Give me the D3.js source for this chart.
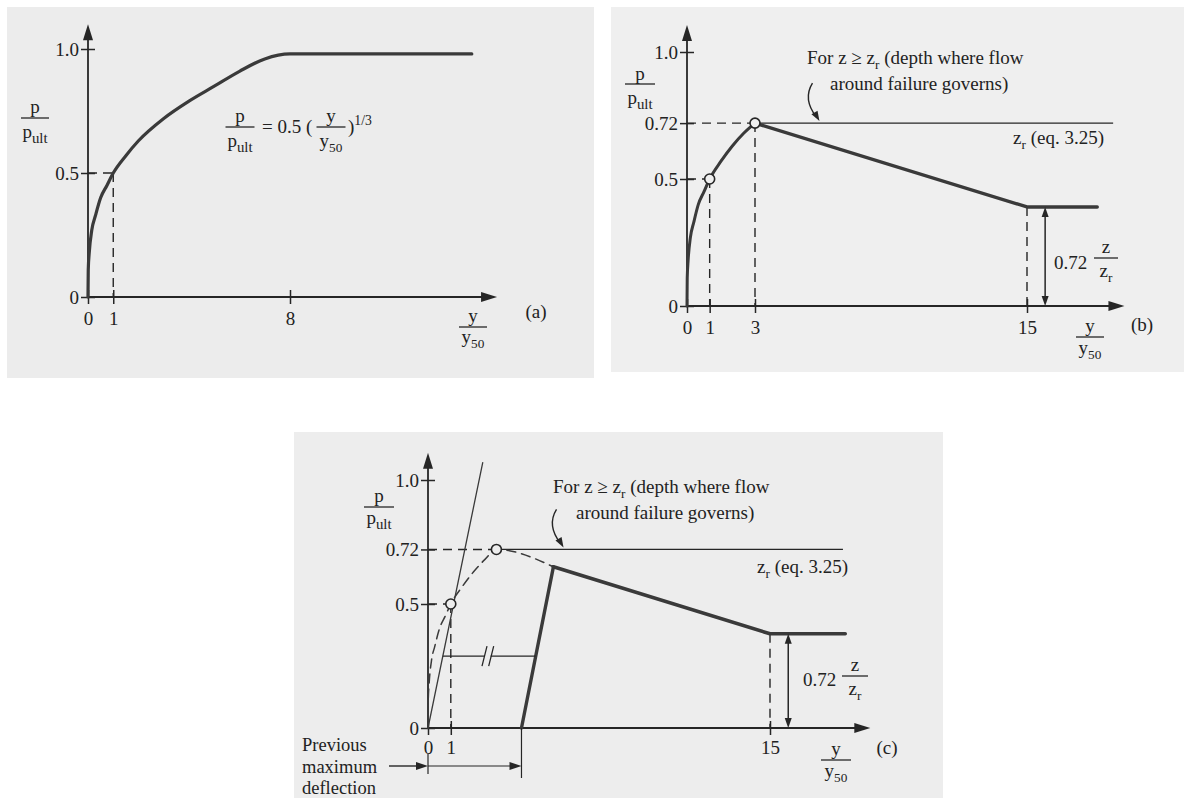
<!DOCTYPE html>
<html><head><meta charset="utf-8">
<script src="https://cdn.jsdelivr.net/npm/d3@7"></script>
<style>
body{margin:0;background:#fff;}
svg{display:block;}
text{font-family:"Liberation Serif","Times New Roman",serif;fill:#222;}
</style>
</head><body>
<svg id="chart" width="1184" height="804"></svg>
<script>
// ---------------- data ----------------
// Panel (a): p/pult = 0.5 (y/y50)^(1/3), capped at 1.0 from y/y50 = 8
const aTickX = [0, 1, 8];
const aTickY = [0, 0.5, 1.0];
const aTickYLabels = ["0", "0.5", "1.0"];
const aCurveX = [0, 0.01, 0.05, 0.15, 0.3, 0.5, 0.75, 1, 1.5, 2, 3, 4, 5, 6, 7, 8, 15.2];
const aCurveY = [0, 0.11, 0.18, 0.27, 0.33, 0.40, 0.45, 0.50, 0.57, 0.63, 0.72, 0.79, 0.85, 0.91, 0.96, 0.98, 0.98];

// Panel (b): static loading, z < zr
const bTickX = [0, 1, 3, 15];
const bTickY = [0, 0.5, 0.72, 1.0];
const bTickYLabels = ["0", "0.5", "0.72", "1.0"];
const bRiseX = [0, 0.01, 0.05, 0.15, 0.3, 0.5, 0.75, 1, 1.5, 2, 2.5, 3];
const bRiseY = [0, 0.11, 0.18, 0.27, 0.33, 0.40, 0.45, 0.50, 0.57, 0.63, 0.68, 0.72];
const bFallX = [3, 15, 18.1];
const bFallY = [0.72, 0.39, 0.39];
const bPointsX = [1, 3];
const bPointsY = [0.5, 0.72];

// Panel (c): cyclic loading
const cTickX = [0, 1, 15];
const cTickY = [0, 0.5, 0.72, 1.0];
const cTickYLabels = ["0", "0.5", "0.72", "1.0"];
const cBackboneX = [0, 0.01, 0.05, 0.15, 0.3, 0.5, 0.75, 1, 1.5, 2, 2.5, 3, 5.5];
const cBackboneY = [0, 0.11, 0.18, 0.27, 0.33, 0.40, 0.45, 0.50, 0.57, 0.63, 0.68, 0.72, 0.65];
const cSolidX = [5.5, 15, 18.3];
const cSolidY = [0.65, 0.38, 0.38];
const cUnloadX = [4.1, 5.5];
const cUnloadY = [0, 0.65];
const cInitialX = [0, 2.4];
const cInitialY = [0, 1.07];
const cReloadY = 0.29;
const cReloadX = [0.65, 2.5, 2.75, 4.72];
const cPointsX = [1, 3];
const cPointsY = [0.5, 0.72];

// ---------------- helpers ----------------
const svg = d3.select("#chart");
const INK = "#262626";
const CURVE = "#3a3a3a";
const FS = 19;

function rich(g, x, y, parts, size, anchor) {
  const t = g.append("text").attr("x", x).attr("y", y)
    .attr("font-size", size).attr("text-anchor", anchor || "start");
  let off = 0;
  parts.forEach(p => {
    if (typeof p === "string") p = {t: p};
    const target = p.sub ? size * 0.25 : p.sup ? -size * 0.4 : 0;
    const fs = (p.sub || p.sup) ? size * (p.scale || 0.72) : size;
    t.append("tspan").attr("dy", target - off).attr("font-size", fs).text(p.t);
    off = target;
  });
  return t;
}
function frac(g, cx, ly, num, den, w, numB, denB, size) {
  rich(g, cx, numB, num, size || FS, "middle");
  g.append("line").attr("x1", cx - w / 2).attr("x2", cx + w / 2)
    .attr("y1", ly).attr("y2", ly).attr("stroke", INK).attr("stroke-width", 1.3);
  rich(g, cx, denB, den, size || FS, "middle");
}
function arrowHead(g, x, y, ang, len, half) {
  len = len || 15; half = half || 4.5;
  const pts = [[0, 0], [-len, -half], [-len, half]].map(([u, v]) =>
    [x + u * Math.cos(ang) - v * Math.sin(ang), y + u * Math.sin(ang) + v * Math.cos(ang)]);
  g.append("path").attr("d", "M" + pts.join("L") + "Z").attr("fill", INK);
}
function seg(g, x1, y1, x2, y2, w, dash, col) {
  return g.append("line").attr("x1", x1).attr("y1", y1).attr("x2", x2).attr("y2", y2)
    .attr("stroke", col || INK).attr("stroke-width", w || 1.4)
    .attr("stroke-dasharray", dash ? "9,6" : null);
}
function axes(g, x, y, xt, yt, yl, xEnd, yTop, pad) {
  const gx = g.append("g").attr("transform", `translate(0,${y(0)})`)
    .call(d3.axisBottom(x).tickValues(xt).tickSize(7).tickPadding(pad).tickFormat(d3.format("d")));
  const gy = g.append("g").attr("transform", `translate(${x(0)},0)`)
    .call(d3.axisLeft(y).tickValues(yt).tickSize(7).tickPadding(2).tickFormat((d, i) => yl[i]));
  [gx, gy].forEach(a => {
    a.select(".domain").remove();
    a.attr("font-family", '"Liberation Serif","Times New Roman",serif').attr("font-size", FS).attr("color", INK);
    a.selectAll(".tick line").attr("stroke-width", 1.5);
  });
  gx.selectAll(".tick line").attr("y1", -7);
  gy.selectAll(".tick line").attr("x1", 7);
  seg(g, x(0), y(0), x(xEnd) - 6, y(0), 1.8);
  arrowHead(g, x(xEnd), y(0), 0, 16, 5);
  seg(g, x(0), y(0), x(0), y(yTop) + 6, 1.8);
  arrowHead(g, x(0), y(yTop), -Math.PI / 2, 16, 5);
}
function curvePath(g, xs, ys, x, y, w, curve, dash) {
  const line = d3.line().x(d => x(d[0])).y(d => y(d[1])).curve(curve || d3.curveLinear);
  return g.append("path").datum(xs.map((v, i) => [v, ys[i]])).attr("d", line)
    .attr("fill", "none").attr("stroke", CURVE).attr("stroke-width", w)
    .attr("stroke-linejoin", "round").attr("stroke-linecap", "round")
    .attr("stroke-dasharray", dash ? "9,6" : null);
}
function circles(g, xs, ys, x, y, bg) {
  g.selectAll(null).data(xs.map((v, i) => [v, ys[i]])).join("circle")
    .attr("cx", d => x(d[0])).attr("cy", d => y(d[1])).attr("r", 5)
    .attr("fill", bg).attr("stroke", INK).attr("stroke-width", 1.6);
}
function doubleArrow(g, px, y1, y2) {
  seg(g, px, y1 + 8, px, y2 - 8, 1.5);
  arrowHead(g, px, y1, -Math.PI / 2, 10, 3.5);
  arrowHead(g, px, y2, Math.PI / 2, 10, 3.5);
}
function curly(g, tx, ty) {
  g.append("path").attr("d", `M${tx - 6},${ty - 38} Q${tx - 16},${ty - 22} ${tx - 2},${ty - 4}`)
    .attr("fill", "none").attr("stroke", INK).attr("stroke-width", 1.4);
  arrowHead(g, tx + 1, ty, Math.atan2(14, 8), 10, 3.5);
}
const pult = ["p", {t: "ult", sub: true, scale: 0.78}];
const y50 = ["y", {t: "50", sub: true, scale: 0.7}];
const zr = ["z", {t: "r", sub: true, scale: 0.7}];

// ---------------- panel backgrounds ----------------
const bgA = "#ececec", bgB = "#efefef", bgC = "#ededed";
svg.append("rect").attr("x", 7).attr("y", 7).attr("width", 587).attr("height", 371).attr("fill", bgA);
svg.append("rect").attr("x", 611).attr("y", 7).attr("width", 573).attr("height", 365).attr("fill", bgB);
svg.append("rect").attr("x", 294).attr("y", 432).attr("width", 649).attr("height", 366).attr("fill", bgC);

// ---------------- panel (a) ----------------
{
  const g = svg.append("g");
  const x = d3.scaleLinear([0, 8], [88, 290]);
  const y = d3.scaleLinear([0, 1], [297, 49]);
  seg(g, x(0), y(0.5), x(1), y(0.5), 1.4, true);
  seg(g, x(1), y(0.5), x(1), y(0), 1.4, true);
  axes(g, x, y, aTickX, aTickY, aTickYLabels, 16.2, 1.1, 8);
  curvePath(g, aCurveX, aCurveY, x, y, 3.2, d3.curveMonotoneX);
  frac(g, 35, 118, ["p"], pult, 28, 113, 138);
  frac(g, 473, 327, ["y"], y50, 28, 322, 343);
  g.append("text").attr("x", 536).attr("y", 318).attr("text-anchor", "middle").attr("font-size", FS).text("(a)");
  // equation
  frac(g, 240, 127, ["p"], pult, 29, 122, 147);
  g.append("text").attr("x", 262).attr("y", 133).attr("font-size", FS).text("= 0.5 (");
  frac(g, 331, 127, ["y"], y50, 29, 122, 147);
  rich(g, 348, 133, [")", {t: "1/3", sup: true, scale: 0.72}], FS);
}

// ---------------- panel (b) ----------------
{
  const g = svg.append("g");
  const x = d3.scaleLinear([0, 15], [687, 1027]);
  const y = d3.scaleLinear([0, 1], [306, 52]);
  seg(g, x(0), y(0.72), x(3), y(0.72), 1.4, true);
  seg(g, x(0), y(0.5), x(1), y(0.5), 1.4, true);
  seg(g, x(1), y(0.5), x(1), y(0), 1.4, true);
  seg(g, x(3), y(0.72), x(3), y(0), 1.4, true);
  seg(g, x(15), y(0.39), x(15), y(0), 1.4, true);
  seg(g, x(3), y(0.72), x(18.8), y(0.72), 1.4);
  axes(g, x, y, bTickX, bTickY, bTickYLabels, 19.3, 1.106, 7.5);
  curvePath(g, bRiseX, bRiseY, x, y, 3, d3.curveMonotoneX);
  curvePath(g, bFallX, bFallY, x, y, 3.4);
  circles(g, bPointsX, bPointsY, x, y, bgB);
  doubleArrow(g, x(15.8), y(0.39), y(0));
  frac(g, 640, 84, ["p"], pult, 30, 80, 104);
  frac(g, 1090, 337, ["y"], y50, 28, 332, 354);
  g.append("text").attr("x", 1142).attr("y", 331).attr("text-anchor", "middle").attr("font-size", FS).text("(b)");
  rich(g, 807, 64, ["For z ≥ ", "z", {t: "r", sub: true, scale: 0.7}, " (depth where flow"], FS);
  g.append("text").attr("x", 830).attr("y", 90).attr("font-size", FS).text("around failure governs)");
  rich(g, 1013, 144, ["z", {t: "r", sub: true, scale: 0.7}, " (eq. 3.25)"], FS);
  g.append("text").attr("x", 1054).attr("y", 269).attr("font-size", FS).text("0.72");
  frac(g, 1106, 258, ["z"], zr, 24, 253, 277);
  curly(g, x(5.8), y(0.72) - 2);
}

// ---------------- panel (c) ----------------
{
  const g = svg.append("g");
  const x = d3.scaleLinear([0, 15], [428, 770]);
  const y = d3.scaleLinear([0, 1], [728, 480]);
  seg(g, x(0), y(0.72), x(3), y(0.72), 1.4, true);
  seg(g, x(0), y(0.5), x(1), y(0.5), 1.4, true);
  seg(g, x(1), y(0.5), x(1), y(0), 1.4, true);
  seg(g, x(15), y(0.38), x(15), y(0), 1.4, true);
  seg(g, x(3), y(0.72), x(18.2), y(0.72), 1.3);
  axes(g, x, y, cTickX, cTickY, cTickYLabels, 19.4, 1.11, 5.5);
  // initial tangent
  curvePath(g, cInitialX, cInitialY, x, y, 1.3);
  // dashed backbone
  curvePath(g, cBackboneX, cBackboneY, x, y, 1.5, d3.curveMonotoneX, true);
  // solid degraded curve and unloading line
  curvePath(g, cSolidX, cSolidY, x, y, 3.6);
  curvePath(g, cUnloadX, cUnloadY, x, y, 3.4);
  // reloading line with break
  seg(g, x(cReloadX[0]), y(cReloadY), x(cReloadX[1]), y(cReloadY), 1.3);
  seg(g, x(cReloadX[2]), y(cReloadY), x(cReloadX[3]), y(cReloadY), 1.3);
  seg(g, x(cReloadX[1]) - 3, y(cReloadY) + 10, x(cReloadX[1]) + 2, y(cReloadY) - 10, 1.3);
  seg(g, x(cReloadX[2]) - 2, y(cReloadY) + 10, x(cReloadX[2]) + 3, y(cReloadY) - 10, 1.3);
  circles(g, cPointsX, cPointsY, x, y, bgC);
  doubleArrow(g, x(15.8), y(0.38), y(0));
  // previous maximum deflection dimension
  seg(g, x(cUnloadX[0]), y(0), x(cUnloadX[0]), y(0) + 50, 1.2);
  seg(g, x(0), y(0) + 26, x(0), y(0) + 46, 1.2);
  seg(g, 389, y(0) + 38, x(0) - 8, y(0) + 38, 1.4);
  arrowHead(g, x(0), y(0) + 38, 0, 12, 4);
  seg(g, x(0), y(0) + 38, x(cUnloadX[0]) - 8, y(0) + 38, 1.2);
  arrowHead(g, x(cUnloadX[0]), y(0) + 38, 0, 12, 4);
  ["Previous", "maximum", "deflection"].forEach((s, i) =>
    g.append("text").attr("x", 302).attr("y", 751 + i * 21.5).attr("font-size", 18.5).text(s));
  frac(g, 379, 507, ["p"], pult, 30, 502, 524);
  frac(g, 836, 760, ["y"], y50, 30, 755, 777);
  g.append("text").attr("x", 887).attr("y", 754).attr("text-anchor", "middle").attr("font-size", FS).text("(c)");
  rich(g, 553, 493, ["For z ≥ ", "z", {t: "r", sub: true, scale: 0.7}, " (depth where flow"], FS);
  g.append("text").attr("x", 576).attr("y", 519).attr("font-size", FS).text("around failure governs)");
  rich(g, 757, 573, ["z", {t: "r", sub: true, scale: 0.7}, " (eq. 3.25)"], FS);
  g.append("text").attr("x", 803).attr("y", 686).attr("font-size", FS).text("0.72");
  frac(g, 855, 676, ["z"], zr, 26, 671, 695);
  curly(g, x(5.9), y(0.72) - 2);
}
</script>
</body></html>
